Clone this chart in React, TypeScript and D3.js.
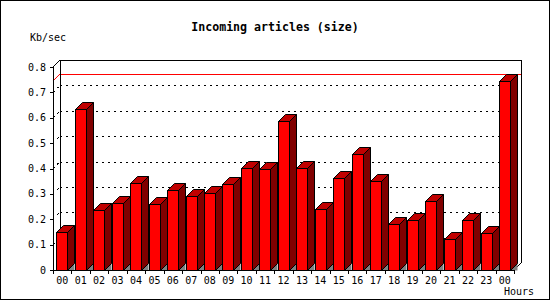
import React from "react";
import * as d3 from "d3";

const hours = ["00","01","02","03","04","05","06","07","08","09","10","11","12","13","14","15","16","17","18","19","20","21","22","23","00"];
const sizeKbSec = [0.151,0.634,0.236,0.265,0.343,0.260,0.315,0.292,0.303,0.339,0.402,0.398,0.587,0.402,0.240,0.363,0.457,0.351,0.181,0.197,0.272,0.122,0.197,0.146,0.745];
const yTicks = [0, 0.1, 0.2, 0.3, 0.4, 0.5, 0.6, 0.7, 0.8];
const yTickLabels = ["0","0.1","0.2","0.3","0.4","0.5","0.6","0.7","0.8"];

const W = 550, H = 300;
const X0 = 53, X1 = 514, Y0 = 270, Y1 = 67, D = 7;
const BAR_OFF = 3.5, BAR_W = 11;

export default function App() {
  const x = d3.scaleBand<number>().domain(d3.range(hours.length)).range([X0, X1]).padding(0);
  const y = d3.scaleLinear().domain([0, 0.8]).range([Y0, Y1]);
  const maxV = d3.max(sizeKbSec) as number;
  const mono = "'DejaVu Sans Mono', monospace";

  return (
    <svg width={W} height={H} style={{ position: "absolute", left: 0, top: 0, background: "#fff" }}>
      <rect x={0.5} y={0.5} width={W - 1} height={H - 1} fill="#fff" stroke="#000" />
      <text x={275} y={31} textAnchor="middle" fontFamily={mono} fontWeight="bold" fontSize={11.6} fill="#000">Incoming articles (size)</text>
      <text x={30} y={41} fontFamily={mono} fontSize={10} fill="#000">Kb/sec</text>
      <text x={534} y={295} textAnchor="end" fontFamily={mono} fontSize={10} fill="#000">Hours</text>

      {/* gridlines */}
      {yTicks.slice(0, -1).map((v, i) => (
        <g key={"g" + i} shapeRendering="crispEdges">
          <line x1={X0} y1={y(v)} x2={X0 + D} y2={y(v) - D} stroke="#000" strokeDasharray="2,4" />
          {v > 0 && <line x1={X0 + D} y1={y(v) - D + 0.5} x2={X1 + D} y2={y(v) - D + 0.5} stroke="#000" strokeDasharray="2,4" />}
        </g>
      ))}

      {/* max line */}
      <line x1={X0} y1={y(maxV)} x2={X0 + D} y2={y(maxV) - D} stroke="#ff0000" />
      <line x1={X0 + D} y1={Math.round(y(maxV) - D) + 0.5} x2={X1 + D} y2={Math.round(y(maxV) - D) + 0.5} stroke="#ff0000" shapeRendering="crispEdges" />

      {/* frame */}
      <g stroke="#000" fill="none" shapeRendering="crispEdges">
        <line x1={X0 + D + 0.5} y1={Y1 - D} x2={X0 + D + 0.5} y2={Y0 - D} />
        <line x1={X0 + D} y1={Y1 - D + 0.5} x2={X1 + D} y2={Y1 - D + 0.5} />
        <line x1={X1 + D + 0.5} y1={Y1 - D} x2={X1 + D + 0.5} y2={Y0 - D} />
      </g>
      <line x1={X0} y1={Y1} x2={X0 + D} y2={Y1 - D} stroke="#000" />
      <line x1={X1} y1={Y0} x2={X1 + D} y2={Y0 - D} stroke="#000" />

      {/* bars */}
      {sizeKbSec.map((v, i) => {
        const bx = Math.round((x(i) as number) + BAR_OFF) + 0.5;
        const yt = Math.round(y(v)) + 0.5;
        const yb = Y0 + 0.5;
        return (
          <g key={"b" + i} stroke="#000" strokeWidth={1}>
            <polygon points={`${bx + BAR_W},${yb} ${bx + BAR_W + D},${yb - D} ${bx + BAR_W + D},${yb}`} fill="#808080" stroke="none" />
            <polygon points={`${bx + BAR_W},${yt} ${bx + BAR_W + D},${yt - D} ${bx + BAR_W + D},${yb - D} ${bx + BAR_W},${yb}`} fill="#800000" />
            <polygon points={`${bx},${yt} ${bx + D},${yt - D} ${bx + BAR_W + D},${yt - D} ${bx + BAR_W},${yt}`} fill="#c00000" />
            <rect x={bx} y={yt} width={BAR_W} height={yb - yt} fill="#ff0000" shapeRendering="crispEdges" />
          </g>
        );
      })}

      {/* axes */}
      <g stroke="#000" shapeRendering="crispEdges">
        <line x1={X0 + 0.5} y1={Y1} x2={X0 + 0.5} y2={Y0 + 1} />
        <line x1={X0} y1={Y0 + 0.5} x2={X1 + 1} y2={Y0 + 0.5} />
        {yTicks.map((v, i) => (
          <line key={"yt" + i} x1={X0 - 3} y1={Math.round(y(v)) + 0.5} x2={X0} y2={Math.round(y(v)) + 0.5} />
        ))}
        {d3.range(hours.length + 1).map((i) => {
          const tx = Math.round(i < hours.length ? (x(i) as number) : X1) + 0.5;
          return <line key={"xt" + i} x1={tx} y1={Y0} x2={tx} y2={Y0 + 4} />;
        })}
      </g>
      {yTicks.map((v, i) => (
        <text key={"yl" + i} x={46} y={y(v) + 3.5} textAnchor="end" fontFamily={mono} fontSize={10} fill="#000">{yTickLabels[i]}</text>
      ))}
      {hours.map((h, i) => (
        <text key={"xl" + i} x={(x(i) as number) + x.bandwidth() / 2} y={284} textAnchor="middle" fontFamily={mono} fontSize={10} fill="#000">{h}</text>
      ))}
    </svg>
  );
}
